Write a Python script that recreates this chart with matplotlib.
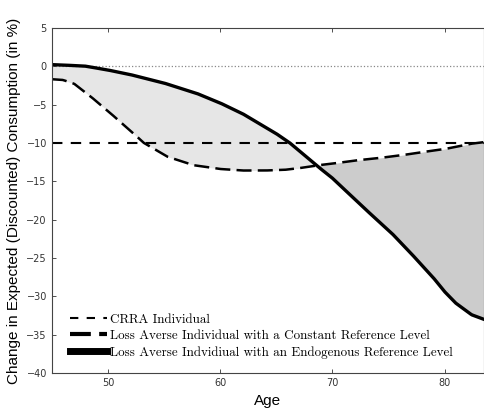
import matplotlib.pyplot as plt
import numpy as np

# values
age_endo = [45, 46, 48, 50, 52, 55, 58, 60, 62, 65, 66.2, 68.8, 70, 72.9, 75.3, 77, 79, 80, 81, 82.4, 83.5]
endo = [0.2, 0.15, 0.0, -0.5, -1.1, -2.2, -3.6, -4.8, -6.2, -8.8, -10.0, -13.2, -14.6, -18.6, -21.8, -24.4, -27.6, -29.4, -30.9, -32.4, -33.0]

age_const = [45, 46, 47, 48.5, 50.2, 52.3, 53.2, 55.3, 57.6, 60, 62, 64, 65.8, 67, 68.8, 70, 72, 74, 76.2, 78, 80, 82.4, 83.5]
const = [-1.7, -1.8, -2.3, -4.0, -6.1, -8.8, -10.0, -11.8, -12.9, -13.4, -13.6, -13.6, -13.5, -13.3, -12.9, -12.7, -12.3, -12.0, -11.6, -11.2, -10.8, -10.1, -9.9]

crra_level = -10

x = np.linspace(45, 83.5, 400)
y_endo = np.interp(x, age_endo, endo)
y_const = np.interp(x, age_const, const)

fig = plt.figure(figsize=(4.84, 4.15), dpi=100)
ax = fig.add_axes([0.107, 0.101, 0.893, 0.832])

ax.fill_between(x, y_endo, y_const, where=y_endo >= y_const, color='#e6e6e6', interpolate=True, lw=0)
ax.fill_between(x, y_endo, y_const, where=y_endo < y_const, color='#cccccc', interpolate=True, lw=0)

ax.axhline(0, color='#888888', linestyle=':', lw=0.9)
l1, = ax.plot([45, 83.5], [crra_level, crra_level], color='k', lw=1.5, dashes=(5, 4),
              label='CRRA Individual')
l2, = ax.plot(x, y_const, color='k', lw=1.8, dashes=(6, 2.5),
              label='Loss Averse Individual with a Constant Reference Level')
l3, = ax.plot(x, y_endo, color='k', lw=2.4,
              label='Loss Averse Indvidiual with an Endogenous Reference Level')

ax.set_xlim(45, 83.5)
ax.set_ylim(-40, 5)
ax.set_xticks([50, 60, 70, 80])
ax.set_yticks(range(-40, 6, 5))
ax.tick_params(direction='in', top=True, labelsize=7, length=3, width=0.6, colors='#333333')
for s in ax.spines.values():
    s.set_linewidth(0.8)
    s.set_color('#444444')

ax.set_xlabel('Age', fontsize=11, family='Liberation Sans')
ax.set_ylabel('Change in Expected (Discounted) Consumption (in %)', fontsize=11, family='Liberation Sans')

h1 = plt.Line2D([], [], color='k', lw=1.5, dashes=(4, 4))
h2 = plt.Line2D([], [], color='k', lw=3.0, dashes=(5, 2))
h3 = plt.Line2D([], [], color='k', lw=5.0)
leg = ax.legend([h1, h2, h3], [l1.get_label(), l2.get_label(), l3.get_label()],
                loc='lower left', bbox_to_anchor=(0.02, 0.015), frameon=False,
                prop={'family': 'cmr10', 'size': 9.4}, handlelength=2.9,
                handletextpad=0.2, labelspacing=0.32, borderaxespad=0.3)

fig.savefig('out.png', dpi=100)
